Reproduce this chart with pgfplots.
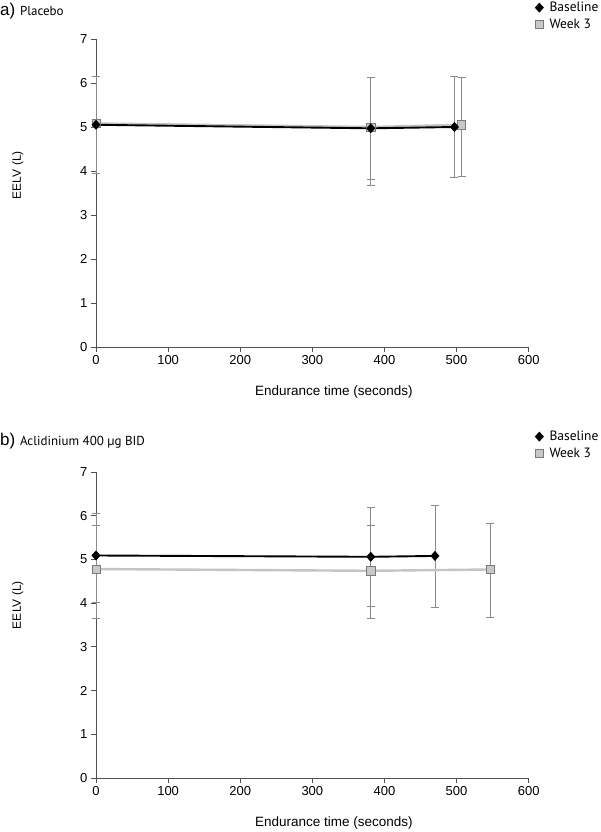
\documentclass[border=0pt]{standalone}
\usepackage{fontspec}
\setmainfont{Liberation Sans}
\newfontfamily\ptsans{PT Sans}
\usepackage{pgfplots}
\pgfplotsset{compat=1.18}

\definecolor{axisgray}{HTML}{505050}
\definecolor{errgray}{HTML}{8A8A8A}
\definecolor{wkline}{HTML}{C4C4C4}
\definecolor{wkfill}{HTML}{C8C8C8}
\definecolor{wkedge}{HTML}{7A7A7A}

\pgfplotsset{
  eelv/.style={
    scale only axis,
    width=432.7pt,
    xmin=0, xmax=600,
    ymin=0, ymax=7,
    xtick={0,100,...,600},
    ytick={0,1,...,7},
    axis lines*=left,
    tick align=outside,
    major tick length=5pt,
    axis line style={axisgray, line width=0.9pt},
    tick style={axisgray, line width=0.9pt},
    ticklabel style={font=\fontsize{13}{15}\selectfont},
    /pgf/number format/assume math mode=true,
    xlabel={Endurance time (seconds)},
    ylabel={EELV (L)},
    xlabel style={font=\fontsize{13.5}{15}\selectfont},
    ylabel style={font=\fontsize{12}{14}\selectfont},
    clip=false,
    legend style={draw=none, fill=none, font=\ptsans\fontsize{13.5}{14}\selectfont,
      anchor=north west, row sep=2pt, inner sep=0pt,
      /tikz/every odd column/.append style={column sep=4pt}},
    legend cell align=left,
    legend image code/.code={\draw[#1] plot coordinates {(0pt,0pt)};},
  },
  errs/.style={only marks, mark=none, forget plot,
    error bars/.cd, y dir=both, y explicit,
    error bar style={errgray, line width=0.8pt},
    error mark options={rotate=90, mark size=4pt, errgray, line width=0.8pt}},
  base/.style={black, line width=1.9pt, mark=diamond*, mark size=4.6pt,
    mark options={xscale=1.2, fill=black, line width=0.5pt}},
  week/.style={wkline, line width=2.4pt, mark=square*, mark size=4.1pt,
    mark options={fill=wkfill, draw=wkedge, line width=0.6pt}},
}

\begin{document}
\begin{tikzpicture}
\path[use as bounding box] (0pt,0pt) rectangle (600pt,832pt);

% a) Placebo
\begin{axis}[eelv, height=308pt, at={(96pt,485pt)}, anchor=south west,
  xlabel style={at={(axis description cs:0.55,-0.146)}, anchor=center},
  ylabel style={at={(axis description cs:-0.181,0.558)}, anchor=center},
  legend style={at={(axis description cs:1.0146,1.127)}},
  ]
\addlegendimage{base}
\addlegendentry{Baseline}
\addlegendimage{week}
\addlegendentry{Week 3}
\addplot[errs] coordinates {
  (0,5.05) += (0,1.10) -= (0,1.10)
  (381,4.97) += (0,1.15) -= (0,1.15)
  (497,5.00) += (0,1.15) -= (0,1.15)
};
\addplot[errs] coordinates {
  (0,5.08) += (0,1.07) -= (0,1.13)
  (381,5.00) += (0,1.12) -= (0,1.33)
  (507,5.05) += (0,1.08) -= (0,1.18)
};
\addplot[week, forget plot] coordinates {(0,5.08) (381,5.00) (507,5.05)};
\addplot[base, forget plot] coordinates {(0,5.05) (381,4.97) (497,5.00)};
\end{axis}

% b) Aclidinium
\begin{axis}[eelv, height=306pt, at={(96pt,54pt)}, anchor=south west,
  xlabel style={at={(axis description cs:0.55,-0.147)}, anchor=center},
  ylabel style={at={(axis description cs:-0.181,0.565)}, anchor=center},
  legend style={at={(axis description cs:1.0146,1.141)}},
  ]
\addlegendimage{base}
\addlegendentry{Baseline}
\addlegendimage{week}
\addlegendentry{Week 3}
\addplot[errs] coordinates {
  (0,5.09) += (0,0.97) -= (0,1.07)
  (381,5.06) += (0,1.13) -= (0,1.13)
  (470,5.08) += (0,1.15) -= (0,1.17)
};
\addplot[errs] coordinates {
  (0,4.78) += (0,0.99) -= (0,1.12)
  (381,4.74) += (0,1.03) -= (0,1.09)
  (547,4.77) += (0,1.05) -= (0,1.09)
};
\addplot[week, forget plot] coordinates {(0,4.78) (381,4.74) (547,4.77)};
\addplot[base, forget plot] coordinates {(0,5.09) (381,5.06) (470,5.08)};
\end{axis}

\node[anchor=base west, inner sep=0pt] at (0pt,816pt)
  {\fontsize{17}{17}\selectfont a)\ \ptsans\fontsize{13}{13}\selectfont Placebo};
\node[anchor=base west, inner sep=0pt] at (0pt,386pt)
  {\fontsize{17}{17}\selectfont b)\ \ptsans\fontsize{13}{13}\selectfont Aclidinium 400 \textmu g BID};
\end{tikzpicture}
\end{document}
